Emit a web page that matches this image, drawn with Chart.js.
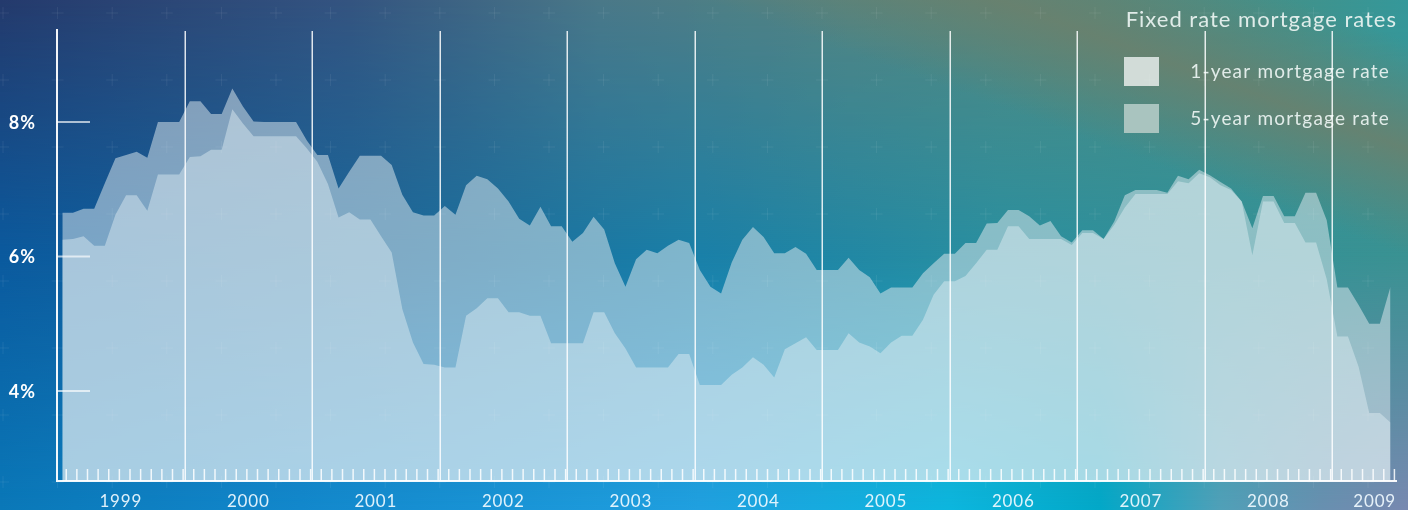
<!DOCTYPE html>
<html>
<head>
<meta charset="utf-8">
<script src="https://cdn.jsdelivr.net/npm/chart.js@4.4.1/dist/chart.umd.min.js"></script>
<style>
  html, body { margin: 0; padding: 0; }
  #wrap { position: relative; width: 1408px; height: 510px; overflow: hidden; }
  .bg { position: absolute; left: 0; top: 0; width: 1408px; height: 510px; }
  .mid { background: linear-gradient(to right, #0b5a9e 0px, #1a6a9c 400px, #1a80a8 700px, #2a90a0 1000px, #3a9292 1408px); }
  .top {
    background: linear-gradient(to right, #243a6c 0px, #345480 350px, #4a7888 600px, #528482 850px, #4e8a80 1100px, #40928c 1300px, #35989a 1408px);
    -webkit-mask-image: linear-gradient(to bottom, #000 0%, rgba(0,0,0,0) 50%);
    mask-image: linear-gradient(to bottom, #000 0%, rgba(0,0,0,0) 50%);
  }
  .bot {
    background: linear-gradient(to right, #0a78b8 0px, #1288cc 300px, #20a0e0 700px, #0cb6de 950px, #02a8c8 1100px, #50a0b8 1220px, #6890b0 1320px, #7888b0 1408px);
    -webkit-mask-image: linear-gradient(to bottom, rgba(0,0,0,0) 50%, #000 100%);
    mask-image: linear-gradient(to bottom, rgba(0,0,0,0) 50%, #000 100%);
  }
  .olive { background: linear-gradient(20deg, rgba(108,128,108,0) 75%, rgba(108,128,108,0.85) 85.4%, rgba(108,128,108,0) 96%); }
  canvas { position: relative; display: block; }
</style>
</head>
<body>
<div id="wrap">
  <div class="bg mid"></div><div class="bg top"></div><div class="bg bot"></div><div class="bg olive"></div>
  <canvas id="chart" width="1408" height="510"></canvas>
</div>
<script>
// --- DATA (monthly, Jan 1999 .. Jun 2009) ---
const years = ['1999','2000','2001','2002','2003','2004','2005','2006','2007','2008','2009'];
const yTicks = [8, 6, 4];
const title = 'Fixed rate mortgage rates';

const rate1y = [
  6.25,6.26,6.30,6.16,6.16,6.62,6.91,6.91,6.68,7.22,7.22,7.22,
  7.48,7.49,7.59,7.59,8.19,7.98,7.79,7.79,7.79,7.79,7.79,7.61,
  7.41,7.08,6.58,6.66,6.55,6.55,6.30,6.06,5.22,4.72,4.40,4.39,
  4.35,4.35,5.12,5.23,5.38,5.38,5.17,5.17,5.12,5.12,4.71,4.71,
  4.71,4.71,5.17,5.17,4.86,4.63,4.35,4.35,4.35,4.35,4.55,4.55,
  4.09,4.09,4.09,4.24,4.35,4.50,4.39,4.20,4.62,4.71,4.80,4.61,
  4.61,4.61,4.86,4.72,4.66,4.56,4.72,4.82,4.82,5.06,5.43,5.63,
  5.63,5.71,5.90,6.10,6.10,6.45,6.45,6.26,6.26,6.26,6.26,6.17,
  6.35,6.35,6.26,6.47,6.73,6.93,6.93,6.93,6.93,7.12,7.09,7.24,
  7.18,7.06,6.99,6.82,6.02,6.82,6.82,6.50,6.50,6.21,6.21,5.66,
  4.81,4.81,4.36,3.67,3.67,3.53
];
const rate5y = [
  6.65,6.65,6.71,6.71,7.09,7.46,7.51,7.56,7.47,8.00,8.00,8.00,
  8.31,8.31,8.12,8.12,8.50,8.23,8.01,8.00,8.00,8.00,8.00,7.73,
  7.51,7.51,7.01,7.26,7.50,7.50,7.50,7.36,6.92,6.66,6.61,6.61,
  6.75,6.62,7.06,7.20,7.15,7.01,6.82,6.56,6.46,6.74,6.45,6.45,
  6.22,6.35,6.59,6.40,5.90,5.55,5.96,6.10,6.05,6.16,6.25,6.20,
  5.80,5.55,5.45,5.91,6.25,6.44,6.29,6.05,6.05,6.14,6.04,5.80,
  5.80,5.80,5.98,5.80,5.69,5.45,5.54,5.54,5.54,5.75,5.90,6.04,
  6.04,6.20,6.20,6.49,6.50,6.69,6.69,6.60,6.46,6.53,6.30,6.21,
  6.39,6.39,6.26,6.52,6.91,6.99,6.99,6.99,6.95,7.20,7.15,7.29,
  7.21,7.11,7.01,6.82,6.42,6.90,6.90,6.60,6.60,6.95,6.95,6.54,
  5.54,5.54,5.28,5.00,5.00,5.55
];

const FONT = 'Lato, "Open Sans", sans-serif';

function spaced(ctx, px){ if('letterSpacing' in ctx) ctx.letterSpacing = px + 'px'; }

// --- DECORATION PLUGIN ---
const decor = {
  id: 'decor',
  beforeDatasetsDraw(chart){
    const {ctx} = chart;
    const ds = chart.data.datasets;
    ctx.save();
    ctx.fillStyle = 'rgba(236,244,242,0.92)';
    ctx.textAlign = 'right';
    ctx.textBaseline = 'alphabetic';
    ctx.font = '22px ' + FONT;
    spaced(ctx, 1);
    ctx.fillText(title, 1397, 27);

    const boxes = [{y:57, c:'#d2dcd8', t:78}, {y:104, c:'#a9c4bf', t:125}];
    ctx.font = '19px ' + FONT;
    spaced(ctx, 1.2);
    boxes.forEach((b, i)=>{
      ctx.fillStyle = b.c;
      ctx.fillRect(1124, b.y, 35, 29);
      ctx.fillStyle = 'rgba(236,244,242,0.92)';
      ctx.fillText(ds[i].label, 1390, b.t);
    });
    ctx.restore();
  },
  afterDatasetsDraw(chart){
    const {ctx, chartArea: a, scales:{x, y}} = chart;
    ctx.save();

    // faint plus pattern
    ctx.strokeStyle = 'rgba(255,255,255,0.07)';
    ctx.lineWidth = 1;
    for(let px = 3; px < 1408; px += 54.6){
      for(let py = 13; py < 510; py += 67){
        ctx.beginPath();
        ctx.moveTo(px - 6, py); ctx.lineTo(px + 6, py);
        ctx.moveTo(px, py - 6); ctx.lineTo(px, py + 6);
        ctx.stroke();
      }
    }

    // year separators
    ctx.strokeStyle = 'rgba(255,255,255,0.85)';
    ctx.lineWidth = 1.5;
    for(let k = 1; k < years.length; k++){
      const px = Math.round(x.getPixelForValue(12*k - 0.5)) + 0.25;
      ctx.beginPath(); ctx.moveTo(px, a.top - 1); ctx.lineTo(px, a.bottom); ctx.stroke();
    }

    // monthly minor ticks
    ctx.strokeStyle = 'rgba(255,255,255,0.85)';
    ctx.lineWidth = 1.5;
    for(let m = 0; m < rate1y.length; m++){
      const px = x.getPixelForValue(m + 0.37);
      ctx.beginPath(); ctx.moveTo(px, a.bottom - 12); ctx.lineTo(px, a.bottom); ctx.stroke();
    }

    // axes
    ctx.strokeStyle = 'rgba(255,255,255,0.95)';
    ctx.lineWidth = 2;
    ctx.beginPath();
    ctx.moveTo(a.left, a.top - 3); ctx.lineTo(a.left, a.bottom);
    ctx.lineTo(a.right + 1, a.bottom);
    ctx.stroke();

    // y ticks + labels
    ctx.strokeStyle = 'rgba(255,255,255,0.65)';
    ctx.lineWidth = 2;
    ctx.fillStyle = '#ffffff';
    ctx.font = 'bold 18px ' + FONT;
    spaced(ctx, 1);
    ctx.textAlign = 'right';
    ctx.textBaseline = 'middle';
    yTicks.forEach(v=>{
      const py = y.getPixelForValue(v);
      ctx.beginPath(); ctx.moveTo(a.left, py); ctx.lineTo(a.left + 33, py); ctx.stroke();
      ctx.fillText(v + '%', 36, py + 1);
    });

    // year labels
    ctx.font = '17px ' + FONT;
    spaced(ctx, 0.8);
    ctx.fillStyle = 'rgba(240,250,255,0.92)';
    ctx.textBaseline = 'alphabetic';
    years.forEach((yr, k)=>{
      const cx = x.getPixelForValue(12*k + 5.5);
      const w = ctx.measureText(yr).width;
      if(cx + w/2 > a.right){ ctx.textAlign = 'right'; ctx.fillText(yr, a.right, 507); }
      else { ctx.textAlign = 'center'; ctx.fillText(yr, cx, 507); }
    });
    ctx.restore();
  }
};

// --- CHART ---
const ctx = document.getElementById('chart').getContext('2d');
new Chart(ctx, {
  type: 'line',
  data: {
    datasets: [
      {label:'1-year mortgage rate', data: rate1y.map((v,i)=>({x:i, y:v})),
       fill:'start', backgroundColor:'rgba(226,240,245,0.45)', borderColor:'rgba(0,0,0,0)',
       borderWidth:0, pointRadius:0, tension:0},
      {label:'5-year mortgage rate', data: rate5y.map((v,i)=>({x:i, y:v})),
       fill:'start', backgroundColor:'rgba(220,232,238,0.52)', borderColor:'rgba(0,0,0,0)',
       borderWidth:0, pointRadius:0, tension:0}
    ]
  },
  options: {
    responsive: false,
    animation: false,
    devicePixelRatio: 1,
    layout: {padding: {left:57, right:12, top:32, bottom:29}},
    scales: {
      x: {type:'linear', min:-0.5, max:125.52, display:false},
      y: {min:2.66, max:9.34, display:false}
    },
    plugins: {legend:{display:false}, tooltip:{enabled:false}}
  },
  plugins: [decor]
});
</script>
</body>
</html>
